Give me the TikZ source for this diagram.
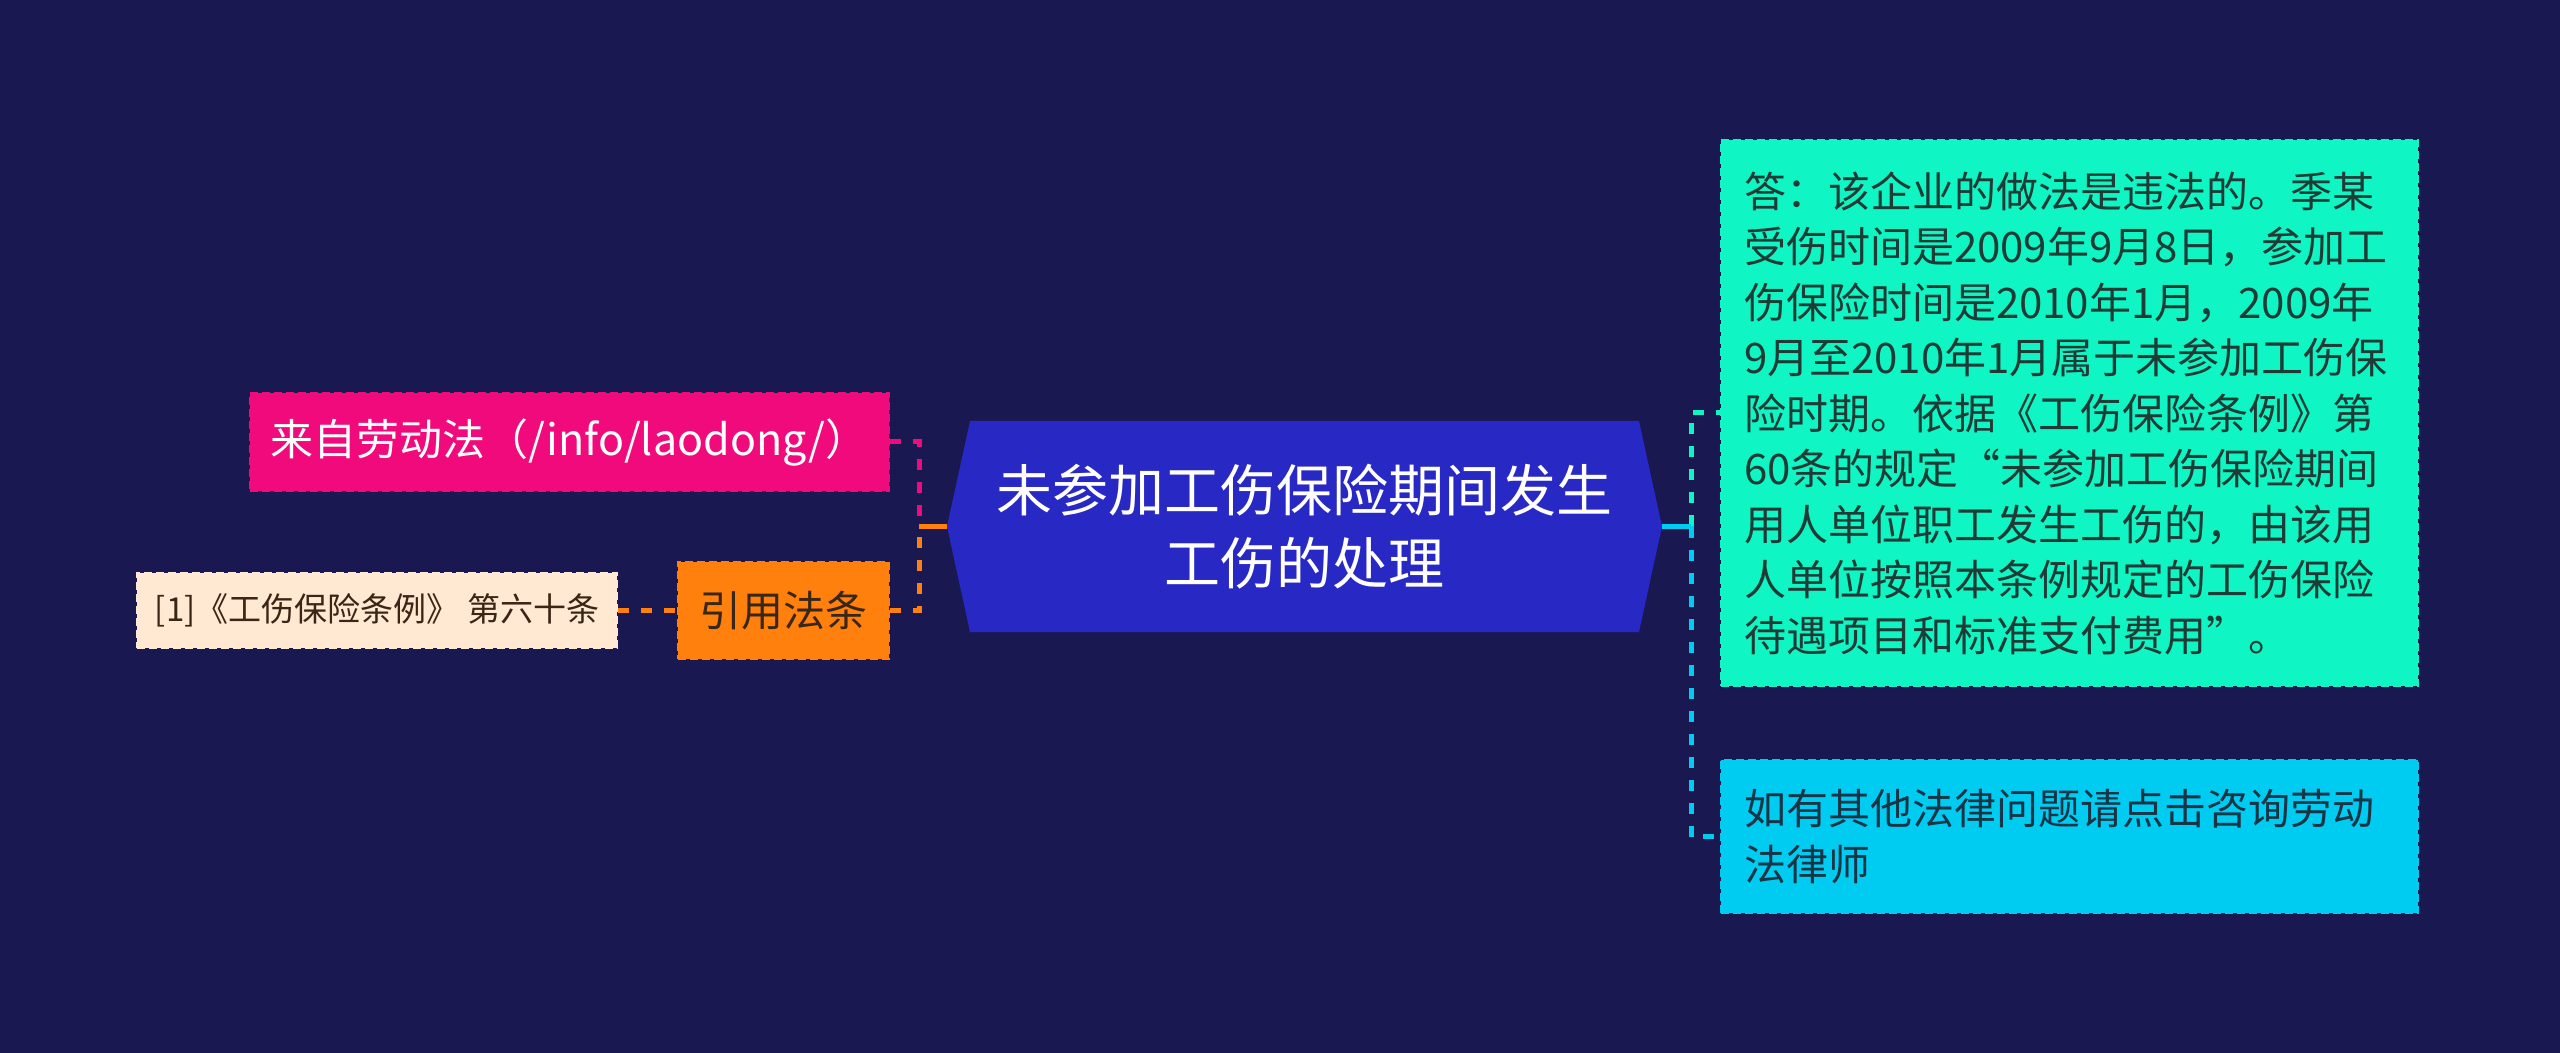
\documentclass[tikz,border=0pt]{standalone}
\usepackage{fontspec}
\setmainfont{Noto Sans CJK SC}
\usepackage{tikz}
\usetikzlibrary{positioning,shapes.symbols}
\definecolor{mapbg}{HTML}{191850}
\definecolor{rootfill}{HTML}{2828C4}
\definecolor{linkpink}{HTML}{F00A7B}
\definecolor{citeorange}{HTML}{FF800C}
\definecolor{lawcream}{HTML}{FFE9D3}
\definecolor{answergreen}{HTML}{10F5C4}
\definecolor{tipblue}{HTML}{00CCF2}
\definecolor{browntext}{HTML}{3A2616}
\definecolor{greentext}{HTML}{1F3B36}
\definecolor{bluetext}{HTML}{163547}

\begin{document}
\begin{tikzpicture}[
  root/.style={signal, signal to=east and west, signal pointer angle=155.4,
               fill=rootfill, text=white, minimum width=357.5pt,
               minimum height=105.5pt, inner sep=0pt, align=center,
               font=\fontsize{28pt}{36.5pt}\selectfont},
  box/.style={draw, dash pattern=on 4pt off 2pt, line width=1pt,
              inner sep=0pt, align=center},
  leaf/.style={box, font=\fontsize{21pt}{27.75pt}\selectfont,
               text width=325.5pt, align=left, minimum width=348.5pt},
  link/.style={line width=2.5pt, dash pattern=on 5.5pt off 6pt},
  stem/.style={line width=2.5pt},
  ]
  \fill[mapbg] (0,0) rectangle (1280pt,-526.5pt);
  \useasboundingbox (0,0) rectangle (1280pt,-526.5pt);

  \node[root] (root) at (652.25pt,-263.25pt) {未参加工伤保险期间发生\\工伤的处理};
  \node[box, fill=linkpink, draw=linkpink, text=white, minimum width=319.5pt,
        minimum height=49pt, font=\fontsize{21.5pt}{26pt}\selectfont]
        (src) at (284.75pt,-221pt) {来自劳动法（/info/laodong/）};
  \node[box, fill=citeorange, draw=citeorange, text=browntext, minimum width=105.5pt,
        minimum height=48.5pt, font=\fontsize{21pt}{26pt}\selectfont]
        (cite) at (391.75pt,-305.25pt) {引用法条};
  \node[box, fill=lawcream, draw=lawcream, text=browntext, minimum width=240pt,
        minimum height=37.5pt, font=\fontsize{16.5pt}{20pt}\selectfont,
        left=29.5pt of cite] (law) {[1]《工伤保险条例》 第六十条};
  \node[leaf, fill=answergreen, draw=answergreen, text=greentext, minimum height=273pt]
        (answer) at (1034.75pt,-206.5pt)
        {答：该企业的做法是违法的。季某\\
         受伤时间是2009年9月8日，参加工\\
         伤保险时间是2010年1月，2009年\\
         9月至2010年1月属于未参加工伤保\\
         险时期。依据《工伤保险条例》第\\
         60条的规定“未参加工伤保险期间\\
         用人单位职工发生工伤的，由该用\\
         人单位按照本条例规定的工伤保险\\
         待遇项目和标准支付费用”。};
  \node[leaf, fill=tipblue, draw=tipblue, text=bluetext, minimum height=76.5pt,
        below=36pt of answer] (tip) {如有其他法律问题请点击咨询劳动\\法律师};

  \coordinate (jl) at (459.5pt,-263.25pt);
  \coordinate (jr) at (845.5pt,-263.25pt);

  \draw[link, linkpink] (src.east) -| (jl);
  \draw[link, citeorange] (cite.east) -| (jl);
  \draw[stem, citeorange] (jl) -- (root.west);
  \draw[link, citeorange] (law.east) -- (cite.west);
  \draw[link, answergreen] (jr) |- (answer.west);
  \draw[link, tipblue] (jr) |- (tip.west);
  \draw[stem, tipblue] (root.east) -- (jr);
\end{tikzpicture}
\end{document}
